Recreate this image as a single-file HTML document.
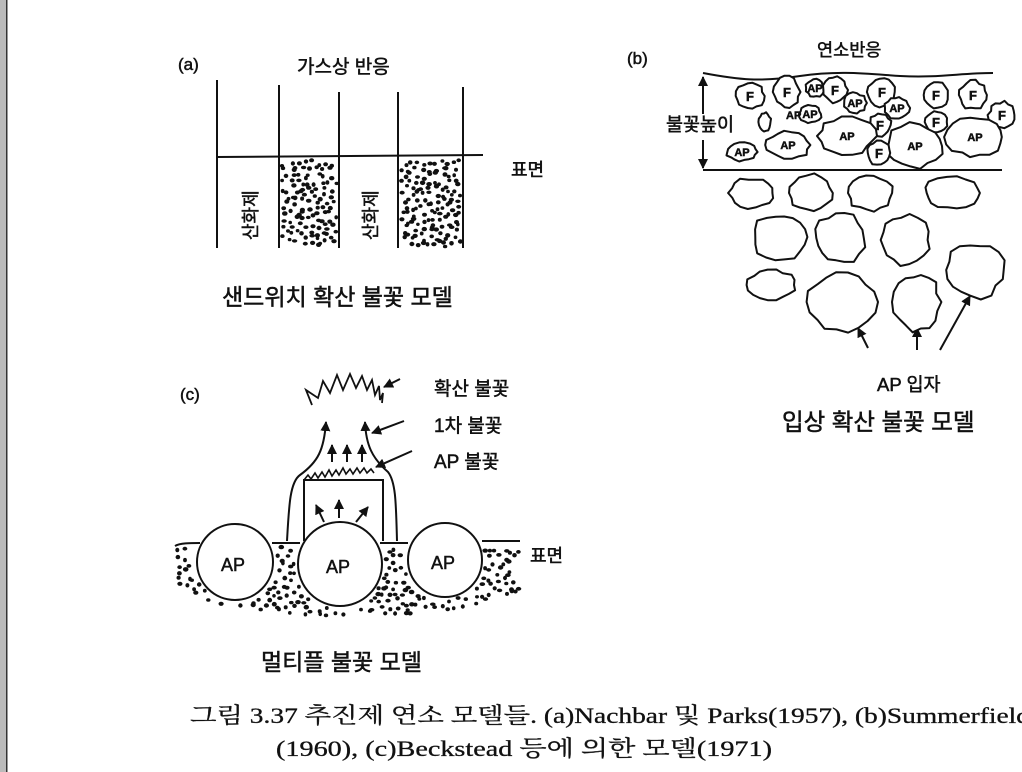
<!DOCTYPE html>
<html><head><meta charset="utf-8"><style>
html,body{margin:0;padding:0;background:#fff;width:1022px;height:772px;overflow:hidden}
svg{display:block}
.k{font-family:"Liberation Sans","Noto Sans CJK KR",sans-serif;fill:#111;stroke:#111;stroke-width:0.5}
.s{font-family:"Liberation Serif","Noto Serif CJK SC","Noto Sans CJK KR",serif;fill:#111;stroke:#111;stroke-width:0.3}
</style></head><body>
<svg id="s" width="1022" height="772" viewBox="0 0 1022 772" xmlns="http://www.w3.org/2000/svg">
<defs><marker id="ah" viewBox="0 0 10 10" refX="9" refY="5" markerWidth="5" markerHeight="5" orient="auto"><path d="M0,0L10,5L0,10z" fill="#111"/></marker></defs>
<rect x="0" y="0" width="6" height="772" fill="#bbb"/><rect x="6" y="0" width="1.5" height="772" fill="#333"/>
<g stroke="#111" stroke-width="2" fill="none">
<line x1="217" y1="80" x2="217" y2="248"/><line x1="279" y1="85" x2="279" y2="248"/>
<line x1="339" y1="92" x2="339" y2="248"/><line x1="398" y1="92" x2="398" y2="248"/>
<line x1="463" y1="87" x2="463" y2="248"/><line x1="217" y1="157" x2="483" y2="155"/>
<path d="M703,73 C740,80 760,82 800,76 C840,70 870,74 900,76 C940,78 960,73 993,73"/>
<line x1="703" y1="170" x2="1002" y2="170"/>
<line x1="703" y1="78" x2="703" y2="115" marker-end="url(#ah)" transform="rotate(180 703 96)"/>
<line x1="703" y1="140" x2="703" y2="168" marker-end="url(#ah)"/>
<line x1="868" y1="348" x2="858" y2="328" marker-end="url(#ah)"/>
<line x1="917" y1="350" x2="917" y2="328" marker-end="url(#ah)"/>
<line x1="940" y1="350" x2="970" y2="296" marker-end="url(#ah)"/>
<path d="M175,546 C180,543 190,543 200,543 M272,543 L300,543 M380,543 L408,543 M482,541 L520,541"/>
<path d="M287,541 C289,505 290,482 300,475 C318,462 324,450 326,422" marker-end="url(#ah)"/>
<path d="M397,541 C396,505 396,482 388,472 C372,458 366,445 365,422" marker-end="url(#ah)"/>
<path d="M304,541 L304,480 L383,480 L383,541"/>
<path d="M304,480 l4,-5 l3,4 l4,-6 l3,5 l4,-6 l3,5 l4,-7 l3,6 l4,-6 l3,5 l4,-7 l3,6 l4,-5 l3,5 l4,-6 l3,5 l4,-5 l3,5 l4,-4 l3,4" stroke-width="1.6"/>
<path d="M312,405 L306,390 L318,398 L323,381 L330,393 L337,375 L343,390 L350,374 L356,388 L362,376 L367,390 L372,380 L375,395 L379,386 L380,400 L383,393 L382,403" stroke-width="1.8"/>
<line x1="332" y1="462" x2="332" y2="445" marker-end="url(#ah)"/>
<line x1="347" y1="462" x2="347" y2="445" marker-end="url(#ah)"/>
<line x1="362" y1="462" x2="362" y2="445" marker-end="url(#ah)"/>
<line x1="324" y1="522" x2="316" y2="505" marker-end="url(#ah)"/>
<line x1="339" y1="518" x2="339" y2="500" marker-end="url(#ah)"/>
<line x1="356" y1="522" x2="368" y2="507" marker-end="url(#ah)"/>
<line x1="400" y1="379" x2="384" y2="387" marker-end="url(#ah)"/>
<line x1="404" y1="421" x2="372" y2="433" marker-end="url(#ah)"/>
<line x1="412" y1="451" x2="376" y2="467" marker-end="url(#ah)"/>
</g>
<g id="dots" fill="#111"></g>
<g id="shapes" stroke="#111" stroke-width="2" fill="#fff"></g>
<g stroke="#111" stroke-width="2" fill="#fff">
<circle cx="235" cy="562" r="38"/><circle cx="340" cy="564" r="42"/><circle cx="445" cy="560" r="37"/>
</g>
<g class="k">
<text x="178" y="70" font-size="17">(a)</text>
<text x="297" y="73" font-size="19">가스상 반응</text>
<text x="511" y="176" font-size="18">표면</text>
<text transform="translate(257,240) rotate(-90)" font-size="18">산화제</text>
<text transform="translate(377,240) rotate(-90)" font-size="18">산화제</text>
<text x="222" y="305" font-size="23">샌드위치 확산 불꽃 모델</text>
<text x="627" y="64" font-size="17">(b)</text>
<text x="817" y="56" font-size="17.5">연소반응</text>
<text x="666" y="131" font-size="18.5">불꽃높이</text>
<text x="877" y="391" font-size="18.5">AP 입자</text>
<text x="782" y="430" font-size="23.5">입상 확산 불꽃 모델</text>
<text x="180" y="400" font-size="17">(c)</text>
<text x="434" y="395" font-size="19">확산 불꽃</text>
<text x="434" y="432" font-size="19">1차 불꽃</text>
<text x="434" y="468" font-size="19">AP 불꽃</text>
<text x="530" y="562" font-size="18">표면</text>
<text x="221" y="571" font-size="18">AP</text>
<text x="326" y="573" font-size="18">AP</text>
<text x="431" y="569" font-size="18">AP</text>
<text x="261" y="670" font-size="23">멀티플 불꽃 모델</text>
</g>
<g class="s">
<text x="190" y="723" font-size="22" textLength="840" lengthAdjust="spacingAndGlyphs">그림 3.37  추진제  연소  모델들. (a)Nachbar 및 Parks(1957),  (b)Summerfield</text>
<text x="276" y="756" font-size="22" textLength="496" lengthAdjust="spacingAndGlyphs">(1960), (c)Beckstead 등에 의한 모델(1971)</text>
</g>
</svg>
<script>
var NS="http://www.w3.org/2000/svg",seed=7;
function r(){seed=(seed*16807)%2147483647;return seed/2147483647;}
var D=document.getElementById("dots"),S=document.getElementById("shapes");
function dot(x,y){var c=document.createElementNS(NS,"ellipse");c.setAttribute("cx",x.toFixed(1));c.setAttribute("cy",y.toFixed(1));c.setAttribute("rx",(1.8+r()*1.0).toFixed(1));c.setAttribute("ry",(1.7+r()*0.6).toFixed(1));D.appendChild(c);}
function grid(x0,y0,x1,y1,step,test){for(var y=y0;y<y1;y+=step)for(var x=x0;x<x1;x+=step){var px=x+r()*step,py=y+r()*step;if(px<x1&&py<y1&&(!test||test(px,py)))dot(px,py);}}
grid(282,160,337,247,6.3);grid(401,160,461,247,6.3);
var cs=[[235,562,41],[340,564,45],[445,560,40]];
grid(177,547,520,620,7.2,function(x,y){var dx=(x-348)/172,lim=546+70*Math.sqrt(Math.max(0,1-dx*dx*0.55));if(y>lim)return false;for(var j=0;j<3;j++){var c=cs[j];if(Math.hypot(x-c[0],y-c[1])<c[2])return false;}return true;});
function blob(cx,cy,rx,ry,t){var p="",n=18;for(var i=0;i<n;i++){var a=i/n*2*Math.PI,k=1+(r()-0.5)*0.22;p+=(i?"L":"M")+(cx+Math.cos(a)*rx*k).toFixed(1)+","+(cy+Math.sin(a)*ry*k).toFixed(1);}p+="Z";var e=document.createElementNS(NS,"path");e.setAttribute("d",p);e.setAttribute("stroke-linejoin","round");S.appendChild(e);if(t){var tx=document.createElementNS(NS,"text");tx.setAttribute("x",cx);tx.setAttribute("y",cy+(t=="F"?5:4));tx.setAttribute("text-anchor","middle");tx.setAttribute("font-size",t=="F"?13:11);tx.setAttribute("font-weight","bold");tx.setAttribute("class","k");tx.setAttribute("stroke","none");tx.textContent=t;S.appendChild(tx);}}
[[752,193,22,15],[810,193,22,18],[870,193,22,18],[952,193,28,16],[780,237,27,23],[840,238,25,25],[905,240,25,25],[975,270,30,27],[772,285,24,15],[842,302,34,30],[917,302,23,28]].forEach(function(b){blob(b[0],b[1],b[2],b[3]);});
[[750,96,14,13,"F"],[787,92,13,15,"F"],[815,88,9,9,"AP"],[835,90,12,13,"F"],[855,103,11,10,"AP"],[882,92,14,15,"F"],[897,108,12,11,"AP"],[936,95,12,13,"F"],[973,95,14,14,"F"],[1002,115,13,13,"F"],[880,125,11,11,"F"],[936,122,11,11,"F"],[810,114,11,9,"AP"],[765,122,6,9,""],[788,145,22,14,"AP"],[847,136,28,18,"AP"],[915,146,28,22,"AP"],[975,137,28,20,"AP"],[879,153,12,12,"F"],[742,152,15,9,"AP"]].forEach(function(b){blob(b[0],b[1],b[2],b[3],b[4]);});
var t=document.createElementNS(NS,"text");t.setAttribute("x",786);t.setAttribute("y",119);t.setAttribute("font-size",11);t.setAttribute("font-weight","bold");t.setAttribute("class","k");t.setAttribute("stroke","none");t.textContent="AP";S.appendChild(t);
</script>
</body></html>
